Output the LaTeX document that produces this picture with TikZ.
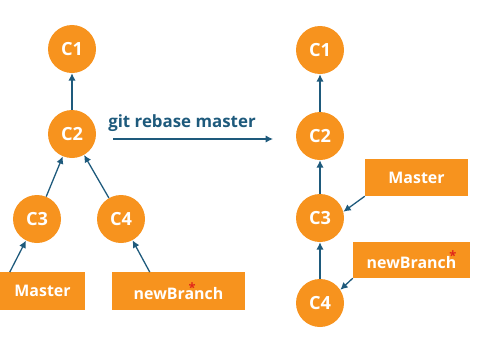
\documentclass[tikz,border=0pt]{standalone}
\usepackage{fontspec}
\setmainfont{Open Sans}
\usetikzlibrary{arrows.meta}
\definecolor{gitorange}{HTML}{F7931E}
\definecolor{gitblue}{HTML}{1E5A7C}
\definecolor{headred}{HTML}{E0251B}
\tikzset{commit/.style={circle,fill=gitorange,minimum size=1.44cm,inner sep=0pt,text=white,font=\bfseries\fontsize{15.5}{16}\selectfont},
ref/.style={fill=gitorange,text=white,inner sep=0pt,font=\bfseries\fontsize{13.6}{14}\selectfont},
flow/.style={-{Latex[length=2.2mm,width=2.2mm]},line width=1.1pt,draw=gitblue},
cmd/.style={text=gitblue,font=\bfseries\fontsize{14.4}{15}\selectfont}}
\newcommand{\headmark}{{\fontsize{11}{11}\selectfont\textcolor{headred}{*}}}
\begin{document}
\begin{tikzpicture}[x=0.03cm,y=-0.03cm]
\useasboundingbox (0,0) rectangle (483,336);
% history before the rebase
\node[commit] (c1) at (72,49) {C1};
\node[commit] (c2) at (72,134) {C2};
\node[commit] (c3) at (37,219) {C3};
\node[commit] (c4) at (121,219) {C4};
\node[ref,minimum width=2.55cm,minimum height=1.12cm] (master) at (42.5,291) {Master};
\node[ref,minimum width=3.99cm,minimum height=1.12cm] (branch) at (178.5,291) {newBra\llap{\raisebox{.4em}{\headmark}\kern-.1em}nch};
\draw[flow] (c2)--(c1);
\draw[flow] (c3)--(c2);\draw[flow] (c4)--(c2);
\draw[flow] ([xshift=.3cm]master.north west)--(c3);
\draw[flow] ([xshift=1.14cm]branch.north west)--(c4);
% the command
\node[cmd] (rebase) at (182,123) {git rebase master};
\coordinate (from) at (113,139);
\coordinate (to) at (273,139);
\draw[flow] (from)--(to);
% history after the rebase
\node[commit] (r1) at (320,50) {C1};
\node[commit] (r2) at (320,136) {C2};
\node[commit] (r3) at (320,218) {C3};
\node[commit] (r4) at (320,303) {C4};
\node[ref,minimum width=3.09cm,minimum height=1.11cm] (rmaster) at (416.5,177.5) {Master};
\node[ref,minimum width=3.51cm,minimum height=1.08cm] (rbranch) at (411.5,260) {newBranch\llap{\raisebox{.5em}{\headmark}}};
\draw[flow] (r2)--(r1);\draw[flow] (r3)--(r2);\draw[flow] (r4)--(r3);
\draw[flow] (rmaster.south west)--(r3.15);
\draw[flow] (rbranch.south west)--(r4.33);
\end{tikzpicture}
\end{document}
